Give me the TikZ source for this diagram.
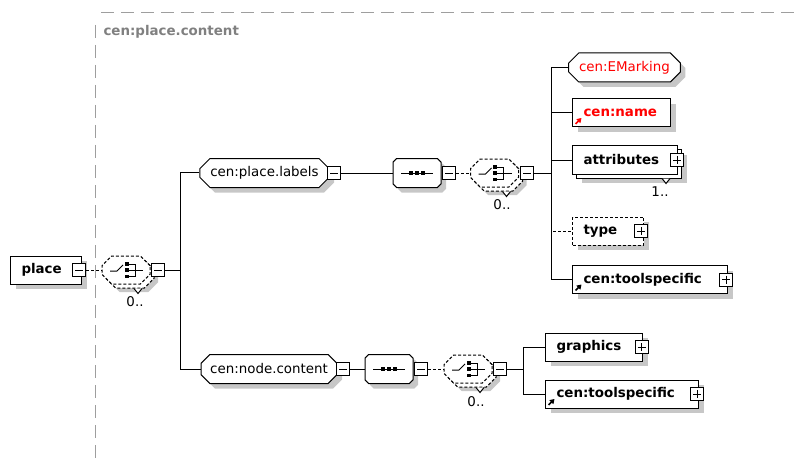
\documentclass[tikz,border=0pt]{standalone}
\usepackage{fontspec}
\setmainfont{DejaVu Sans}
\usetikzlibrary{shapes.misc,shadows,arrows.meta}
\def\diagfont{\fontsize{13.4}{16}\selectfont}
\colorlet{shadow gray}{black!22}
\colorlet{frame gray}{black!38}
\colorlet{title gray}{black!50}
\tikzset{every node/.style={font=\diagfont},
    shade/.style={general shadow={fill=shadow gray, shadow xshift=5pt, shadow yshift=-5pt}},
    stack/.style={general shadow={fill=shadow gray, shadow xshift=9pt, shadow yshift=-9pt},
        copy shadow={shadow xshift=4pt, shadow yshift=-4pt, line width=1pt}},
    element/.style={draw, fill=white, anchor=west, minimum height=28pt, inner xsep=11pt,
        inner ysep=0pt, align=left, font=\diagfont\bfseries},
    group/.style={draw, fill=white, chamfered rectangle, chamfered rectangle xsep=7pt,
        minimum height=29pt, inner xsep=4pt, inner ysep=0pt, shade},
    sequence/.style={group, minimum width=48pt,
        path picture={\begin{scope}[shift={(path picture bounding box.center)}]
            \draw (-16,0) -- (16,0);
            \fill[black] (-8,-2.2) rectangle (-3.6,2.2);
            \fill[black] (-2.2,-2.2) rectangle (2.2,2.2);
            \fill[black] (3.6,-2.2) rectangle (8,2.2);
        \end{scope}}},
    choice/.style={draw, fill=white, chamfered rectangle, chamfered rectangle xsep=9pt,
        minimum width=48pt, minimum height=28pt, inner sep=6pt,
        dash pattern=on 3pt off 2pt,
        general shadow={fill=shadow gray, shadow xshift=8pt, shadow yshift=-8pt},
        copy shadow={shadow xshift=4pt, shadow yshift=-4pt, line width=1pt, dash pattern=on 3pt off 2pt},
        path picture={\begin{scope}[shift={(path picture bounding box.center)}, solid]
            \draw (-16,1) -- (-9,1) -- (-3,-5);
            \fill[black] (-1.5,-8) rectangle (2.5,-4.5);
            \fill[black] (-1.5,-2) rectangle (2.5,2);
            \fill[black] (-1.5,4.5) rectangle (2.5,8);
            \draw (2,-6) -- (9,-6) -- (9,6) -- (2,6);
            \draw (2,0) -- (17,0);
        \end{scope}}},
    refel/.style={path picture={\draw[#1, line width=1.5pt, -{Triangle[length=4.5pt,width=5.5pt]}]
        ([shift={(3pt,3pt)}]path picture bounding box.south west) -- ++(6pt,6pt);}},
    refel/.default=black,
    expander/.style={draw, fill=white, minimum size=13pt, inner sep=0pt},
    minus/.style={expander, path picture={
        \draw ([xshift=2.5pt]path picture bounding box.west) -- ([xshift=-2.5pt]path picture bounding box.east);}},
    plus/.style={expander, path picture={
        \draw ([xshift=2.5pt]path picture bounding box.west) -- ([xshift=-2.5pt]path picture bounding box.east);
        \draw ([yshift=-2.5pt]path picture bounding box.north) -- ([yshift=2.5pt]path picture bounding box.south);}},
    mult/.style={inner sep=0pt},
    notch/.style={fill=white, line width=1pt}}

\begin{document}
\begin{tikzpicture}[x=1pt, y=-1pt, line width=1pt]
    \useasboundingbox (0,0) rectangle (799,465);

    % group frame
    \draw[frame gray, dash pattern=on 13pt off 7pt] (101,13) -- (799,13);
    \draw[frame gray, dash pattern=on 13pt off 7pt] (95,25) -- (95,465);
    \node[anchor=west, text=title gray, font=\diagfont\bfseries, inner sep=0pt] (title) at (103,32) {cen:place.content};

    % root
    \node[element, shade, text width=49pt] (place) at (10,270) {place};
    \node[minus] (place-exp) at (79,270) {};
    \node[choice] (choice1) at (126,270) {};
    \node[minus] (choice1-exp) at (158,270) {};
    \draw[notch] ([shift={(8pt,-4pt)}]choice1.south) -- ++(4pt,-5pt) -- ++(4pt,5pt);
    \node[mult] (choice1-mult) at (135,302) {0..};
    \coordinate (bus1) at (180,270);

    % place labels
    \node[group, minimum width=125pt] (labels) at (264.5,173) {cen:place.labels};
    \node[minus] (labels-exp) at (334,173) {};
    \node[sequence] (seq1) at (417,173) {};
    \node[minus] (seq1-exp) at (449,173) {};
    \node[choice] (choice2) at (494.5,173) {};
    \node[minus] (choice2-exp) at (527,173) {};
    \draw[notch] ([shift={(8pt,-4pt)}]choice2.south) -- ++(4pt,-5pt) -- ++(4pt,5pt);
    \node[mult] (choice2-mult) at (502,205) {0..};
    \coordinate (bus2) at (551,173);

    \node[group, text=red, minimum width=105pt] (emarking) at (624.5,67.5) {cen:EMarking};
    \node[element, shade, refel=red, text=red, text width=76pt] (name) at (572,113) {cen:name};
    \node[element, stack, text width=83pt] (attributes) at (572,160) {attributes};
    \node[plus] (attributes-exp) at (677,160) {};
    \draw[notch] ([shift={(-16pt,-4pt)}]attributes.south east) -- ++(4pt,-5pt) -- ++(4pt,5pt);
    \node[mult] (attributes-mult) at (660,192) {1..};
    \node[element, shade, dash pattern=on 3pt off 2pt, text width=49pt] (type) at (572,231) {type};
    \node[plus] (type-exp) at (641,231) {};
    \node[element, shade, refel, text width=133pt] (tools1) at (572,279.5) {cen:toolspecific};
    \node[plus] (tools1-exp) at (726,279.5) {};

    % node content
    \node[group, minimum width=132pt] (content) at (269,369) {cen:node.content};
    \node[minus] (content-exp) at (343,369) {};
    \node[sequence] (seq2) at (389,369) {};
    \node[minus] (seq2-exp) at (421,369) {};
    \node[choice] (choice3) at (468,369) {};
    \node[minus] (choice3-exp) at (500,369) {};
    \draw[notch] ([shift={(8pt,-4pt)}]choice3.south) -- ++(4pt,-5pt) -- ++(4pt,5pt);
    \node[mult] (choice3-mult) at (476,402) {0..};
    \coordinate (bus3) at (523,369);

    \node[element, shade, text width=75pt] (graphics) at (545,347) {graphics};
    \node[plus] (graphics-exp) at (641.5,347) {};
    \node[element, shade, refel, text width=131pt] (tools2) at (545,394) {cen:toolspecific};
    \node[plus] (tools2-exp) at (697,394) {};

    % connectors
    \draw[dash pattern=on 3pt off 2pt] (place-exp) -- (choice1);
    \draw (choice1-exp) -- (bus1);
    \draw (bus1) |- (labels);
    \draw (bus1) |- (content);
    \draw (labels-exp) -- (seq1);
    \draw[dash pattern=on 3pt off 2pt] (seq1-exp) -- (choice2);
    \draw (choice2-exp) -- (bus2);
    \draw (bus2) |- (emarking);
    \draw (bus2) |- (name);
    \draw (bus2) |- (attributes);
    \draw (bus2) |- (tools1);
    \draw[dash pattern=on 3pt off 2pt] (bus2) |- (type);
    \draw (content-exp) -- (seq2);
    \draw[dash pattern=on 3pt off 2pt] (seq2-exp) -- (choice3);
    \draw (choice3-exp) -- (bus3);
    \draw (bus3) |- (graphics);
    \draw (bus3) |- (tools2);
\end{tikzpicture}
\end{document}
